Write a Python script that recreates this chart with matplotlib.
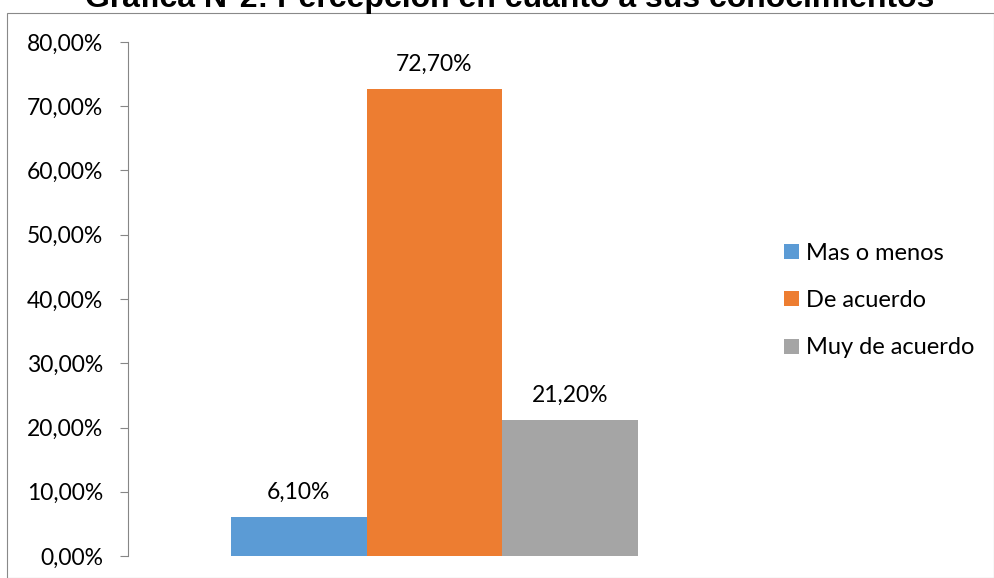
import matplotlib.pyplot as plt
from matplotlib.patches import Rectangle
from matplotlib.ticker import FuncFormatter

# data
categories = ["Mas o menos", "De acuerdo", "Muy de acuerdo"]
values = [6.10, 72.70, 21.20]
colors = ["#5B9BD5", "#ED7D31", "#A5A5A5"]
yticks = [0, 10, 20, 30, 40, 50, 60, 70, 80]
title = "Gráfica N°2: Percepción en cuanto a sus conocimientos"

plt.rcParams["font.family"] = ["Lato", "DejaVu Sans"]

W, H = 995, 578
fig = plt.figure(figsize=(W / 100, H / 100), dpi=100)

# outer chart frame
fig.patches.append(
    Rectangle((7 / W, 0.5 / H), (W - 8) / W, (H - 13.2) / H,
              transform=fig.transFigure, fill=False, edgecolor="#898989", lw=0.8)
)

# title (cut off by the top edge, as in the reference)
fig.text(510 / W, 1 - 6.5 / H, title, ha="center", va="baseline",
         fontsize=23, fontweight="bold", family="Liberation Sans")

ax = fig.add_axes([128 / W, 1 - 556 / H, (740 - 128) / W, (556 - 42) / H])
ax.patch.set_alpha(0)

for i, (cat, val, col) in enumerate(zip(categories, values, colors)):
    ax.bar(i, val, width=1.0, color=col, label=cat)
    ax.annotate(f"{val:.2f}".replace(".", ",") + "%", (i, val),
                xytext=(0, 17.5), textcoords="offset points",
                ha="center", va="center", fontsize=16.5)

ax.set_xlim(-1.257, 3.25)
ax.set_ylim(0, 80)
ax.set_yticks(yticks)
ax.yaxis.set_major_formatter(FuncFormatter(lambda v, p: f"{v:.2f}".replace(".", ",") + "%"))
ax.set_xticks([])

for s in ["top", "right", "bottom"]:
    ax.spines[s].set_visible(False)
ax.spines["left"].set_color("#868686")
ax.tick_params(axis="y", length=6, color="#868686", pad=12, labelsize=16.5)

fig.legend(loc="center left", bbox_to_anchor=(775 / W, 1 - 300.5 / H),
           frameon=False, fontsize=17, handlelength=0.6, handleheight=0.6,
           handletextpad=0.3, labelspacing=1.12, borderaxespad=0)

fig.savefig("out.png", dpi=100)
